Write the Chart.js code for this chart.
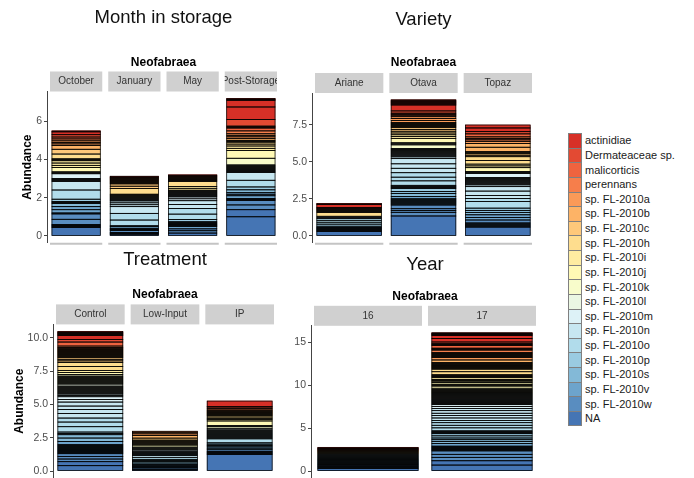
<!DOCTYPE html>
<html>
<head>
<meta charset="utf-8">
<script src="https://cdn.jsdelivr.net/npm/chart.js@4"></script>
<style>
  html, body { margin: 0; padding: 0; overflow: hidden; background: #fff; }
  body { position: relative; width: 694px; height: 478px; font-family: "Liberation Sans", Arial, sans-serif; }
  canvas { position: absolute; }
  #legend { position: absolute; left: 568px; top: 133px; }
  .row { height: 14.63px; display: flex; align-items: center; font-size: 11px; color: #1a1a1a; }
  .key { width: 14px; height: 14.63px; box-sizing: border-box; border: 1px solid #808080; border-bottom: none; margin-right: 3px; }
  .row:last-child .key { border-bottom: 1px solid #808080; }
</style>
</head>
<body>
<canvas id="month" width="290" height="262" style="left:0;top:0"></canvas>
<canvas id="variety" width="260" height="262" style="left:290px;top:0"></canvas>
<canvas id="treatment" width="290" height="250" style="left:0;top:245px"></canvas>
<canvas id="year" width="260" height="250" style="left:290px;top:245px"></canvas>
<div id="legend"></div>
<script>
// legend order (top of each bar first)
var species = ['actinidiae', 'Dermateaceae sp.', 'malicorticis', 'perennans', 'sp. FL-2010a', 'sp. FL-2010b',
  'sp. FL-2010c', 'sp. FL-2010h', 'sp. FL-2010i', 'sp. FL-2010j', 'sp. FL-2010k', 'sp. FL-2010l', 'sp. FL-2010m',
  'sp. FL-2010n', 'sp. FL-2010o', 'sp. FL-2010p', 'sp. FL-2010s', 'sp. FL-2010v', 'sp. FL-2010w', 'NA'];
var speciesCodes = ['act', 'der', 'mal', 'per', 'a', 'b', 'c', 'h', 'i', 'j', 'k', 'l', 'm', 'n', 'o', 'p', 's', 'v', 'w', 'NA'];
var speciesColors = ['#d73027', '#e34a33', '#ef633f', '#f67e4b', '#fa9a58', '#fdb366', '#fec87a', '#fedd8e',
  '#feeca1', '#fff9b5', '#f8fccb', '#ebf7e3', '#ddf2f7', '#c7e7f1', '#b1dceb', '#9acbe1', '#83b9d7', '#6da4cc',
  '#598dc0', '#4575b4'];

// bands bottom -> top: [species code, abundance of one sample, number of samples]
var monthCats = ['October', 'January', 'May', 'Post-Storage'];
var monthTicks = ['0', '2', '4', '6'];
var octoberBands = [['NA', 0.44], ['NA', 0.05, 3], ['w', 0.28, 2], ['w', 0.05], ['v', 0.17], ['v', 0.16], ['s', 0.17],
  ['s', 0.05, 2], ['p', 0.12], ['o', 0.48], ['n', 0.45], ['n', 0.05, 3], ['m', 0.25], ['l', 0.05], ['k', 0.05],
  ['j', 0.22], ['i', 0.12, 3], ['h', 0.05, 2], ['h', 0.25], ['c', 0.25], ['b', 0.2], ['a', 0.08, 3], ['per', 0.1],
  ['mal', 0.1], ['der', 0.12], ['act', 0.15], ['act', 0.05]];
var januaryBands = [['NA', 0.06, 3], ['w', 0.1], ['w', 0.05, 2], ['v', 0.1], ['s', 0.05], ['o', 0.3], ['o', 0.35],
  ['n', 0.35], ['n', 0.1, 3], ['m', 0.05, 3], ['k', 0.05, 3], ['i', 0.05], ['h', 0.3], ['c', 0.12, 2],
  ['b', 0.05, 3], ['a', 0.05, 2], ['per', 0.05], ['der', 0.05], ['act', 0.05]];
var mayBands = [['NA', 0.15], ['w', 0.12], ['w', 0.1], ['v', 0.12], ['v', 0.05, 2], ['s', 0.05, 3], ['p', 0.12],
  ['o', 0.28], ['o', 0.3], ['n', 0.2], ['n', 0.2], ['m', 0.1, 2], ['m', 0.05, 2], ['l', 0.05, 3], ['k', 0.05, 2],
  ['i', 0.1, 2], ['h', 0.25], ['c', 0.05, 2], ['b', 0.05, 2], ['a', 0.05], ['der', 0.05], ['act', 0.05]];
var postStorageBands = [['NA', 1.0], ['NA', 0.37], ['w', 0.25], ['w', 0.23], ['w', 0.05, 2], ['v', 0.15], ['v', 0.08, 2],
  ['s', 0.15], ['p', 0.15], ['o', 0.35], ['n', 0.4], ['m', 0.05, 4], ['l', 0.05, 4], ['k', 0.35], ['j', 0.4],
  ['i', 0.12, 2], ['h', 0.1, 2], ['c', 0.05, 2], ['b', 0.1], ['a', 0.08, 3], ['per', 0.15], ['mal', 0.15],
  ['mal', 0.05, 2], ['der', 0.35], ['act', 0.65], ['act', 0.35], ['act', 0.05, 2]];

var varietyCats = ['Ariane', 'Otava', 'Topaz'];
var varietyTicks = ['0.0', '2.5', '5.0', '7.5'];
var arianeBands = [['NA', 0.3], ['w', 0.07, 4], ['s', 0.08], ['p', 0.14], ['o', 0.13, 3], ['m', 0.07], ['k', 0.07],
  ['h', 0.25], ['c', 0.07, 2], ['a', 0.07], ['per', 0.07], ['der', 0.07], ['act', 0.2], ['act', 0.07]];
var otavaBands = [['NA', 1.35], ['w', 0.25], ['w', 0.12, 2], ['w', 0.25], ['v', 0.07, 6], ['v', 0.15], ['s', 0.2],
  ['s', 0.15], ['p', 0.2], ['p', 0.07, 3], ['o', 0.3], ['o', 0.25], ['o', 0.3], ['n', 0.3], ['n', 0.3], ['n', 0.35],
  ['n', 0.12], ['m', 0.07, 4], ['l', 0.07, 4], ['k', 0.25], ['k', 0.07, 2], ['j', 0.3], ['i', 0.12, 2],
  ['h', 0.12, 2], ['c', 0.12, 2], ['b', 0.07, 5], ['a', 0.13, 3], ['per', 0.1], ['mal', 0.07, 2], ['der', 0.15],
  ['act', 0.4], ['act', 0.07, 5]];
var topazBands = [['NA', 0.6], ['w', 0.07, 4], ['w', 0.2], ['v', 0.17], ['v', 0.18], ['s', 0.15, 2], ['p', 0.15],
  ['o', 0.45], ['o', 0.2], ['n', 0.2], ['n', 0.3], ['n', 0.3], ['n', 0.12], ['m', 0.07, 7], ['m', 0.28],
  ['l', 0.07, 2], ['j', 0.25], ['i', 0.12, 2], ['h', 0.25, 2], ['c', 0.1, 2], ['c', 0.07, 2], ['b', 0.3],
  ['b', 0.25], ['a', 0.15], ['per', 0.1, 3], ['mal', 0.2], ['der', 0.15], ['act', 0.25], ['act', 0.2]];

var treatmentCats = ['Control', 'Low-Input', 'IP'];
var treatmentTicks = ['0.0', '2.5', '5.0', '7.5', '10.0'];
var controlBands = [['NA', 0.4], ['NA', 0.3], ['w', 0.2, 3], ['w', 0.075, 4], ['v', 0.075, 5], ['v', 0.25],
  ['s', 0.25, 2], ['p', 0.1, 2], ['o', 0.4], ['o', 0.35], ['o', 0.3], ['n', 0.35], ['n', 0.3], ['n', 0.25],
  ['n', 0.3], ['m', 0.2, 2], ['m', 0.1, 2], ['l', 0.075, 8], ['l', 0.15], ['k', 0.075, 8], ['k', 0.12], ['j', 0.15],
  ['i', 0.15], ['h', 0.3, 2], ['c', 0.12, 3], ['b', 0.075, 5], ['a', 0.075, 4], ['per', 0.1, 2], ['mal', 0.3],
  ['der', 0.2], ['act', 0.3], ['act', 0.075, 4]];
var lowInputBands = [['NA', 0.075, 2], ['w', 0.1], ['w', 0.075, 2], ['v', 0.1], ['s', 0.1], ['p', 0.1],
  ['p', 0.075, 2], ['o', 0.15], ['n', 0.15], ['n', 0.075, 2], ['m', 0.075, 2], ['m', 0.12], ['l', 0.075, 3],
  ['j', 0.15], ['i', 0.075, 2], ['h', 0.075, 3], ['c', 0.15], ['b', 0.2], ['a', 0.12, 2], ['per', 0.075]];
var ipBands = [['NA', 1.25], ['w', 0.075, 3], ['w', 0.12], ['v', 0.12], ['v', 0.1], ['s', 0.1, 2], ['p', 0.1],
  ['o', 0.3], ['n', 0.075, 5], ['m', 0.075, 4], ['l', 0.12], ['k', 0.12], ['k', 0.075], ['j', 0.35], ['i', 0.1, 2],
  ['h', 0.1, 2], ['c', 0.075, 2], ['b', 0.075, 2], ['a', 0.1], ['per', 0.1], ['mal', 0.075], ['der', 0.1],
  ['act', 0.42]];

var yearCats = ['16', '17'];
var yearTicks = ['0', '5', '10', '15'];
var y16Bands = [['NA', 0.3], ['w', 0.11, 2], ['w', 0.15], ['v', 0.11, 3], ['s', 0.11, 2], ['p', 0.11, 2],
  ['o', 0.11, 2], ['n', 0.11, 2], ['m', 0.11], ['h', 0.11, 2], ['b', 0.11], ['a', 0.11], ['der', 0.11],
  ['act', 0.11, 2]];
var y17Bands = [['NA', 0.7], ['NA', 0.5], ['w', 0.4], ['w', 0.35], ['w', 0.4], ['v', 0.11, 5], ['v', 0.3],
  ['s', 0.25], ['s', 0.2, 2], ['p', 0.25, 2], ['p', 0.11, 3], ['o', 0.35], ['o', 0.3, 2], ['o', 0.25], ['n', 0.3],
  ['n', 0.3], ['n', 0.25], ['n', 0.3], ['n', 0.25], ['m', 0.25], ['m', 0.2], ['m', 0.11, 6], ['l', 0.11, 6],
  ['k', 0.11, 4], ['k', 0.15], ['j', 0.25], ['j', 0.11, 2], ['j', 0.2], ['i', 0.15], ['i', 0.11, 2], ['i', 0.2],
  ['h', 0.11, 3], ['h', 0.35], ['h', 0.3], ['c', 0.11, 7], ['b', 0.3], ['a', 0.3], ['a', 0.11, 5], ['per', 0.3],
  ['per', 0.11, 2], ['mal', 0.3], ['mal', 0.11, 2], ['der', 0.2], ['act', 0.4], ['act', 0.35], ['act', 0.11, 3]];

var FONT = '"Liberation Sans", Arial, sans-serif';
Chart.defaults.font.family = FONT;

function expand(bands) {
  var out = [];
  bands.forEach(function (b) {
    for (var k = 0; k < (b[2] || 1); k++) out.push({ code: b[0], value: b[1] });
  });
  return out;
}

// black outline round every sample slice (drawn from the bar elements)
var outlinePlugin = {
  id: 'outlines',
  afterDatasetsDraw: function (chart) {
    var ctx = chart.ctx;
    ctx.save();
    ctx.strokeStyle = '#000';
    ctx.lineWidth = 0.75;
    chart.data.datasets.forEach(function (ds, di) {
      chart.getDatasetMeta(di).data.forEach(function (bar, k) {
        if (ds.data[k] == null) return;
        var p = bar.getProps(['x', 'y', 'base', 'width'], true);
        ctx.strokeRect(p.x - p.width / 2, Math.min(p.y, p.base), p.width, Math.abs(p.base - p.y));
      });
    });
    ctx.restore();
  }
};

// grey strips above each facet, and the x axis line under it
var facetPlugin = {
  id: 'facets',
  afterDraw: function (chart) {
    var ctx = chart.ctx, a = chart.chartArea, x = chart.scales.x;
    var w = a.width / chart.data.labels.length;
    ctx.save();
    chart.data.labels.forEach(function (lab, i) {
      var cx = x.getPixelForValue(i);
      var l = cx - w / 2 + 3, r = cx + w / 2 - 3;
      ctx.fillStyle = '#d0d0d0';
      ctx.fillRect(l, a.top - 20, r - l, 20);
      ctx.save();
      ctx.beginPath();
      ctx.rect(l, a.top - 20, r - l, 20);
      ctx.clip();
      ctx.fillStyle = '#333';
      ctx.font = '10px ' + FONT;
      ctx.textAlign = 'center';
      ctx.textBaseline = 'middle';
      ctx.fillText(lab, cx, a.top - 10);
      ctx.restore();
      ctx.strokeStyle = '#c4c4c4';
      ctx.lineWidth = 2;
      ctx.beginPath();
      ctx.moveTo(l, a.bottom + 1);
      ctx.lineTo(r, a.bottom + 1);
      ctx.stroke();
    });
    ctx.restore();
  }
};

function facetChart(cfg) {
  var slices = cfg.bars.map(expand);
  var n = Math.max.apply(null, slices.map(function (s) { return s.length; }));
  var datasets = [];
  for (var j = 0; j < n; j++) {
    datasets.push({
      data: slices.map(function (s) { return s[j] ? s[j].value : null; }),
      backgroundColor: slices.map(function (s) {
        return s[j] ? speciesColors[speciesCodes.indexOf(s[j].code)] : 'rgba(0,0,0,0)';
      }),
      borderWidth: 0,
      inflateAmount: 0.3,
      barPercentage: cfg.barPct,
      categoryPercentage: 1
    });
  }
  var top = Math.max.apply(null, slices.map(function (s) {
    return s.reduce(function (t, d) { return t + d.value; }, 0);
  }));
  var tickVals = cfg.ticks.map(parseFloat);

  return new Chart(document.getElementById(cfg.id).getContext('2d'), {
    type: 'bar',
    data: { labels: cfg.cats, datasets: datasets },
    options: {
      responsive: false,
      animation: false,
      devicePixelRatio: 1,
      layout: { padding: { left: 0, right: cfg.padRight, top: 0, bottom: cfg.padBottom } },
      plugins: {
        legend: { display: false },
        tooltip: { enabled: false },
        title: {
          display: true, text: cfg.title, fullSize: false, color: '#111',
          font: { size: 18.5, weight: 'normal' },
          padding: { top: cfg.titleY - 11.1, bottom: 0 }
        },
        subtitle: {
          display: true, text: 'Neofabraea', fullSize: false, color: '#000',
          font: { size: 12, weight: 'bold' },
          padding: { top: cfg.subY - 7.2 - (cfg.titleY + 11.1), bottom: cfg.areaTop - cfg.subY - 7.2 }
        }
      },
      scales: {
        x: { display: false, stacked: true },
        y: {
          stacked: true,
          min: -0.05 * top,
          max: 1.05 * top,
          afterFit: function (scale) { scale.width = cfg.yWidth; },
          afterBuildTicks: function (scale) {
            scale.ticks = tickVals.map(function (v) { return { value: v }; });
          },
          ticks: {
            color: '#4d4d4d', font: { size: 10.5 }, padding: 2,
            callback: function (v, i) { return cfg.ticks[i]; }
          },
          grid: { drawOnChartArea: false, drawTicks: true, tickLength: 3, color: '#444' },
          border: { display: true, color: '#444', width: 1 },
          title: {
            display: !!cfg.yTitle, text: cfg.yTitle || '', color: '#000',
            font: { size: 12, weight: 'bold' },
            padding: { top: (cfg.yTitleX || 0) - 7.2, bottom: 0 }
          }
        }
      }
    },
    plugins: [outlinePlugin, facetPlugin]
  });
}

facetChart({
  id: 'month', title: 'Month in storage', cats: monthCats, ticks: monthTicks,
  bars: [octoberBands, januaryBands, mayBands, postStorageBands],
  yTitle: 'Abundance', yTitleX: 28, yWidth: 47, padRight: 10, padBottom: 19.2,
  titleY: 18, subY: 62.5, areaTop: 91.5, barPct: 0.83
});
facetChart({
  id: 'variety', title: 'Variety', cats: varietyCats, ticks: varietyTicks,
  bars: [arianeBands, otavaBands, topazBands],
  yWidth: 22, padRight: 15, padBottom: 19.2,
  titleY: 20, subY: 63, areaTop: 93, barPct: 0.87
});
facetChart({
  id: 'treatment', title: 'Treatment', cats: treatmentCats, ticks: treatmentTicks,
  bars: [controlBands, lowInputBands, ipBands],
  yTitle: 'Abundance', yTitleX: 20, yWidth: 53, padRight: 13, padBottom: 17,
  titleY: 15, subY: 49.5, areaTop: 79.4, barPct: 0.87
});
facetChart({
  id: 'year', title: 'Year', cats: yearCats, ticks: yearTicks,
  bars: [y16Bands, y17Bands],
  yWidth: 21, padRight: 11, padBottom: 17,
  titleY: 20, subY: 52, areaTop: 80.8, barPct: 0.88
});

// legend column
var legend = document.getElementById('legend');
species.forEach(function (name, i) {
  var row = document.createElement('div');
  row.className = 'row';
  var key = document.createElement('div');
  key.className = 'key';
  key.style.background = speciesColors[i];
  row.appendChild(key);
  row.appendChild(document.createTextNode(name));
  legend.appendChild(row);
});
</script>
</body>
</html>
